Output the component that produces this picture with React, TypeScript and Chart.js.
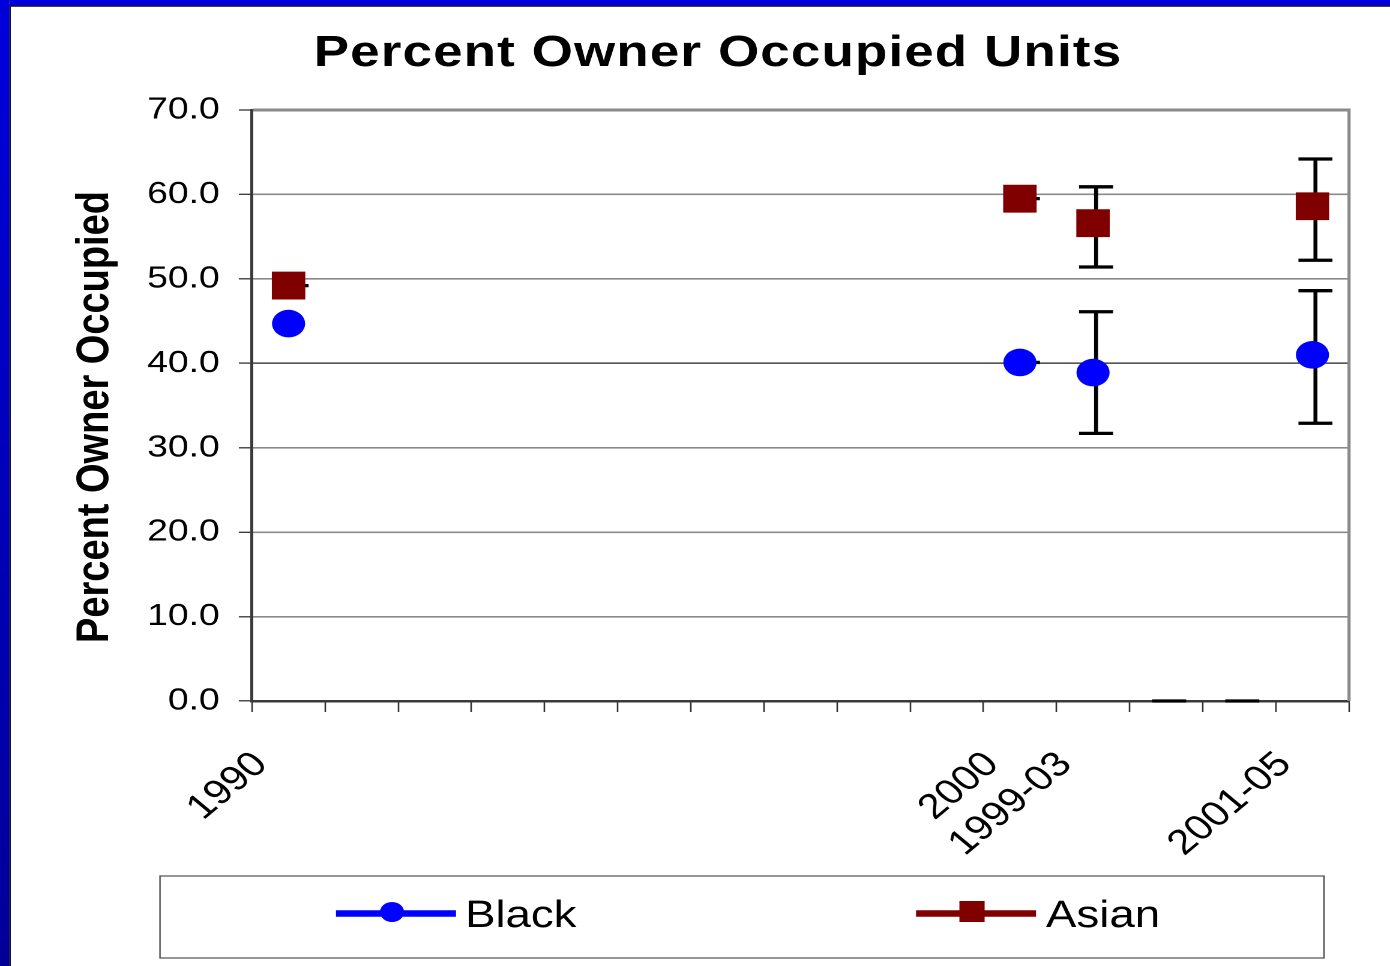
import React, { useEffect, useRef } from 'react';
import { Chart, registerables } from 'chart.js';

Chart.register(...registerables);

// ---------- data ----------
const categories = ['1990', '', '', '', '', '', '', '', '', '', '2000', '1999-03', '', '', '2001-05'];
const seriesNames = ['Black', 'Asian'];
const blackValues = [44.7, null, null, null, null, null, null, null, null, null, 40.1, 38.9, null, null, 41.0];
const asianValues = [49.2, null, null, null, null, null, null, null, null, null, 59.5, 56.6, null, null, 58.6];
const blackErrLow = [null, null, null, null, null, null, null, null, null, null, 40.1, 31.7, 0, 0, 32.9];
const blackErrHigh = [null, null, null, null, null, null, null, null, null, null, 40.1, 46.1, 0, 0, 48.6];
const asianErrLow = [49.2, null, null, null, null, null, null, null, null, null, 59.5, 51.4, null, null, 52.2];
const asianErrHigh = [49.2, null, null, null, null, null, null, null, null, null, 59.5, 60.9, null, null, 64.2];
const yTickValues = [0, 10, 20, 30, 40, 50, 60, 70];
const titleText = 'Percent Owner Occupied Units';
const yTitleText = 'Percent Owner Occupied';

// ---------- layout (the picture is stretched horizontally) ----------
const W = 1390;
const H = 966;
const CW = 1158; // drawing width, stretched to W
const cx = (x: number) => (x * CW) / W;
const FONT = "'Liberation Sans', Arial, Helvetica, sans-serif";
const BLUE = '#0000ff';
const MAROON = '#800000';

const framePlugin = {
  id: 'frame',
  beforeDraw(chart: any) {
    const ctx = chart.ctx;
    ctx.save();
    ctx.fillStyle = '#ffffff';
    ctx.fillRect(0, 0, CW, H);
    const g = ctx.createLinearGradient(0, 0, 0, H);
    g.addColorStop(0, '#0000dc');
    g.addColorStop(1, '#000098');
    ctx.fillStyle = g;
    ctx.fillRect(0, 0, cx(9.5), H);
    ctx.fillStyle = '#0000dc';
    ctx.fillRect(cx(9.5), 0, CW, 5.5);
    ctx.fillStyle = '#151515';
    ctx.fillRect(cx(9.5), 5.5, cx(1.3), H);
    ctx.fillRect(cx(9.5), 5.5, CW, 1.3);
    ctx.restore();
  },
};

const errorBarPlugin = {
  id: 'errorBars',
  beforeDatasetsDraw(chart: any) {
    const { ctx, chartArea } = chart;
    const xs = chart.scales.x;
    const ys = chart.scales.y;
    ctx.save();
    // right border of the plot area
    ctx.strokeStyle = '#8a8a8a';
    ctx.lineWidth = 2.6;
    ctx.beginPath();
    ctx.moveTo(chartArea.right, chartArea.top - 1.5);
    ctx.lineTo(chartArea.right, chartArea.bottom);
    ctx.stroke();

    const sets = [
      [blackErrLow, blackErrHigh],
      [asianErrLow, asianErrHigh],
    ];
    ctx.strokeStyle = '#000000';
    ctx.lineWidth = 3.3;
    const hw = cx(17);
    sets.forEach(([lo, hi]) => {
      lo.forEach((l, i) => {
        const h = hi[i];
        if (l == null || h == null) return;
        const px = xs.getPixelForValue(i) + cx(3);
        const yl = ys.getPixelForValue(l);
        const yh = ys.getPixelForValue(h);
        ctx.beginPath();
        ctx.moveTo(px, yl);
        ctx.lineTo(px, yh);
        ctx.moveTo(px - hw, yl);
        ctx.lineTo(px + hw, yl);
        ctx.moveTo(px - hw, yh);
        ctx.lineTo(px + hw, yh);
        ctx.stroke();
      });
    });
    ctx.restore();
  },
};

const textPlugin = {
  id: 'texts',
  afterDraw(chart: any) {
    const ctx = chart.ctx;
    ctx.save();
    // title
    ctx.fillStyle = '#000';
    ctx.font = `bold 44px ${FONT}`;
    try {
      (ctx as any).letterSpacing = '1px';
    } catch (e) {}
    ctx.textAlign = 'center';
    ctx.textBaseline = 'alphabetic';
    ctx.fillText(titleText, cx(718), 66);
    try {
      (ctx as any).letterSpacing = '0px';
    } catch (e) {}

    // y axis title
    ctx.save();
    ctx.translate(cx(108), 417);
    ctx.rotate(-Math.PI / 2);
    ctx.font = `bold 38px ${FONT}`;
    ctx.textAlign = 'center';
    ctx.fillText(yTitleText, 0, 0);
    ctx.restore();

    // legend
    ctx.strokeStyle = '#505050';
    ctx.lineWidth = 1.2;
    ctx.strokeRect(cx(160), 876, cx(1324) - cx(160), 82);
    const ds = chart.data.datasets;
    const items = [
      { x0: 336, x1: 456, mx: 392, tx: 465 },
      { x0: 916, x1: 1036, mx: 972, tx: 1046 },
    ];
    const ly = 913.5;
    items.forEach((it, k) => {
      const d = ds[k];
      ctx.strokeStyle = d.borderColor;
      ctx.fillStyle = d.backgroundColor;
      ctx.lineWidth = 6.5;
      ctx.beginPath();
      ctx.moveTo(cx(it.x0), ly);
      ctx.lineTo(cx(it.x1), ly);
      ctx.stroke();
      if (d.pointStyle === 'circle') {
        ctx.beginPath();
        ctx.arc(cx(it.mx), ly - 1.5, 10, 0, Math.PI * 2);
        ctx.fill();
      } else {
        ctx.fillRect(cx(it.mx) - 10.5, ly - 12.5, 21, 21);
      }
      ctx.fillStyle = '#000';
      ctx.font = `38px ${FONT}`;
      ctx.textAlign = 'left';
      ctx.textBaseline = 'alphabetic';
      ctx.fillText(d.label, cx(it.tx), 927);
    });
    ctx.restore();
  },
};

export default function App() {
  const ref = useRef<HTMLCanvasElement | null>(null);

  useEffect(() => {
    if (!ref.current) return;
    const chart = new Chart(ref.current, {
      type: 'line',
      data: {
        labels: categories,
        datasets: [
          {
            label: seriesNames[0],
            data: blackValues,
            showLine: false,
            borderColor: BLUE,
            backgroundColor: BLUE,
            pointStyle: 'circle',
            pointRadius: 13.8,
            pointBorderWidth: 0,
            pointBackgroundColor: BLUE,
          },
          {
            label: seriesNames[1],
            data: asianValues,
            showLine: false,
            borderColor: MAROON,
            backgroundColor: MAROON,
            pointStyle: 'rect',
            pointRadius: 19.7,
            pointBorderWidth: 0,
            pointBackgroundColor: MAROON,
          },
        ],
      },
      options: {
        responsive: false,
        animation: false,
        devicePixelRatio: 2,
        events: [],
        layout: {
          padding: { top: 110, right: CW - cx(1349), bottom: 0, left: 0 },
        },
        plugins: {
          legend: { display: false },
          title: { display: false },
          tooltip: { enabled: false },
        },
        scales: {
          x: {
            type: 'category',
            offset: true,
            afterFit: (s: any) => {
              s.height = H - 701;
            },
            grid: {
              display: true,
              drawOnChartArea: false,
              drawTicks: true,
              tickLength: 11,
              offset: true,
              tickColor: '#333',
              tickWidth: 1.3,
            },
            border: { display: true, color: '#3a3a3a', width: 2.5 },
            ticks: {
              autoSkip: false,
              maxRotation: 45,
              minRotation: 45,
              padding: 32,
              labelOffset: -23,
              color: '#000',
              font: { family: FONT, size: 35 },
            },
          },
          y: {
            type: 'linear',
            min: 0,
            max: 70,
            afterFit: (s: any) => {
              s.width = cx(252);
            },
            afterBuildTicks: (s: any) => {
              s.ticks = yTickValues.map((v) => ({ value: v }));
            },
            grid: {
              display: true,
              drawOnChartArea: true,
              drawTicks: true,
              tickLength: 11,
              color: (c: any) => (c.tick && c.tick.value === 40 ? '#202020' : '#8a8a8a'),
              lineWidth: (c: any) =>
                c.tick && c.tick.value === 70 ? 3 : c.tick && c.tick.value === 40 ? 1.2 : 1.6,
              tickColor: '#333',
              tickWidth: 1.3,
            },
            border: { display: true, color: '#3a3a3a', width: 2.5 },
            ticks: {
              padding: 16,
              color: '#000',
              font: { family: FONT, size: 31 },
              callback: (v: any) => Number(v).toFixed(1),
            },
          },
        },
      },
      plugins: [framePlugin, errorBarPlugin, textPlugin],
    } as any);
    return () => chart.destroy();
  }, []);

  return (
    <canvas
      ref={ref}
      width={CW}
      height={H}
      style={{
        position: 'absolute',
        left: 0,
        top: 0,
        width: `${W}px`,
        height: `${H}px`,
        display: 'block',
      }}
    />
  );
}
